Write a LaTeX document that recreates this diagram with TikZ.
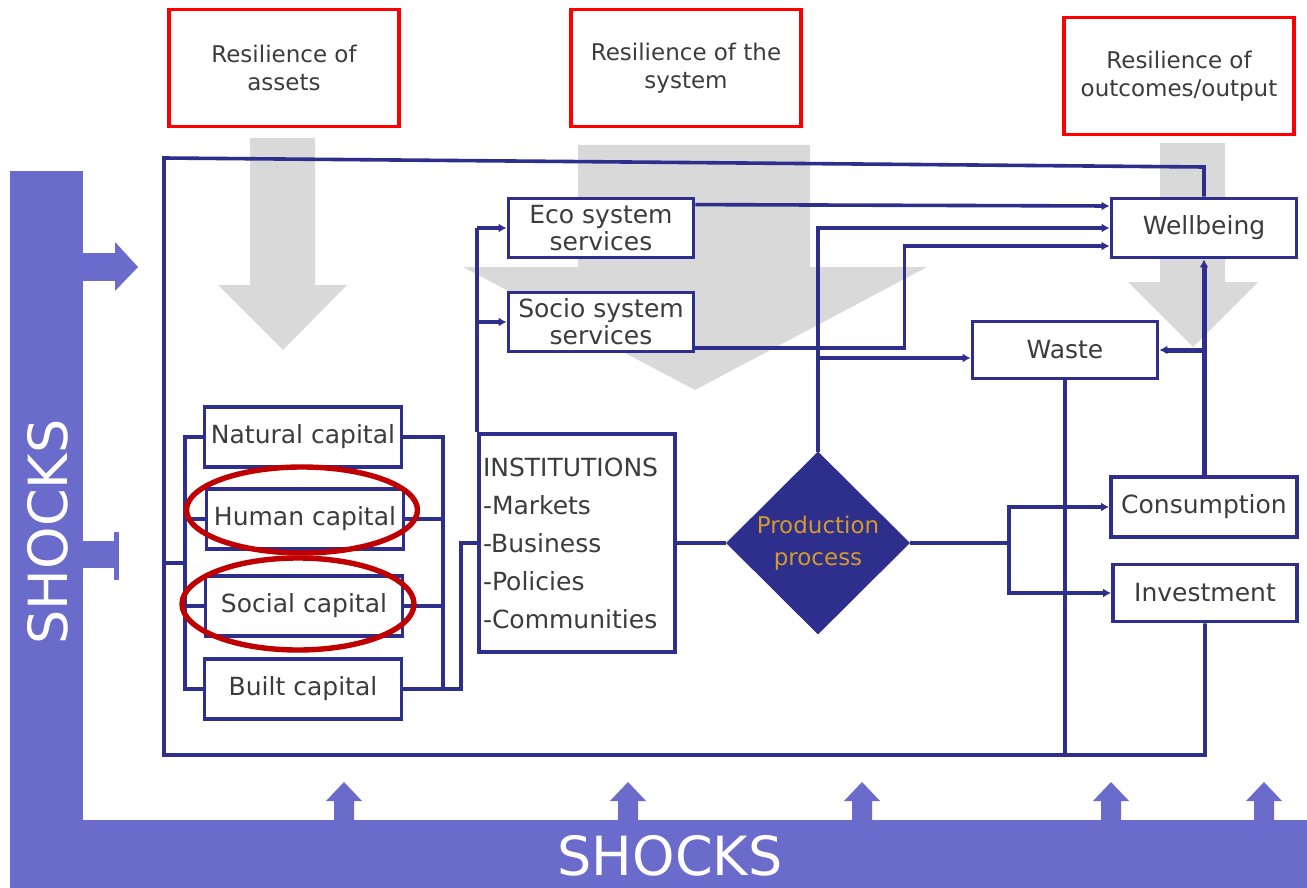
\documentclass[tikz,border=0pt]{standalone}
\usepackage{fontspec}
\setmainfont{DejaVu Sans}
\usetikzlibrary{arrows.meta,shapes.geometric}

\definecolor{navy}{RGB}{46,46,140}
\definecolor{shock}{RGB}{107,107,204}
\definecolor{ghost}{RGB}{217,217,217}
\definecolor{ring}{RGB}{192,0,0}
\definecolor{gold}{RGB}{209,155,43}
\definecolor{ink}{RGB}{60,60,60}

\begin{document}
\begin{tikzpicture}[x=0.5pt,y=-0.5pt,
  box/.style={draw=navy,line width=1.9pt,fill=white,text=ink,
    font=\fontsize{12.5}{13.5}\selectfont,inner sep=0pt,align=center,
    minimum width=92.5pt,minimum height=29.5pt},
  capbox/.style={box,minimum width=98.5pt,minimum height=30pt},
  res/.style={draw=red,line width=1.8pt,text=ink,
    font=\fontsize{11.5}{14}\selectfont,align=center,inner sep=0pt,
    minimum width=115pt,minimum height=58.5pt},
  link/.style={draw=navy,line width=1.8pt},
  tip/.style={-{Latex[length=4pt,width=4.5pt]}}
]
\useasboundingbox (0,0) rectangle (1307,888);

% grey resilience arrows
\fill[ghost] (250,138) -- (315,138) -- (315,285) -- (347,285) -- (283,350) -- (218,285) -- (250,285) -- cycle;
\fill[ghost] (578,145) -- (810,145) -- (810,267) -- (927,267) -- (695,390) -- (463,267) -- (578,267) -- cycle;
\fill[ghost] (1160,143) -- (1225,143) -- (1225,282) -- (1258,282) -- (1193,347) -- (1128,282) -- (1160,282) -- cycle;

% shocks
\fill[shock] (10,171) rectangle (83,888);
\fill[shock] (10,820) rectangle (1307,888);
\fill[shock] (83,253) rectangle (115,281);
\fill[shock] (115,242) -- (138,267) -- (115,291) -- cycle;
\fill[shock] (83,541) rectangle (115,568);
\fill[shock] (114,532) rectangle (119,580);
\foreach \x in {344,628,862,1111,1264}
    \fill[shock] (\x-10,821) -- (\x-10,801) -- (\x-18,801) -- (\x,782) -- (\x+18,801) -- (\x+10,801) -- (\x+10,821) -- cycle;

\node[text=white,font=\fontsize{27}{27}\selectfont] (shockB) at (670,856) {SHOCKS};
\node[text=white,font=\fontsize{27}{27}\selectfont,rotate=90] (shockL) at (48,532) {SHOCKS};

% resilience boxes
\node[res] (resA) at (284,68) {Resilience of\\assets};
\node[res] (resS) at (686,68) {Resilience of the\\system};
\node[res] (resO) at (1179,76) {Resilience of\\outcomes/output};

% capitals
\node[capbox] (natural) at (303,437) {Natural capital};
\node[capbox] (human) at (305,519) {Human capital};
\node[capbox] (social) at (304,606) {Social capital};
\node[capbox] (built) at (303,689) {Built capital};

\node[box,minimum width=98pt,minimum height=109pt,text width=94pt,
      inner xsep=2pt,align=left,font=\fontsize{12.5}{19}\selectfont] (inst) at (577,543)
    {INSTITUTIONS\\-Markets\\-Business\\-Policies\\-Communities};

\node[box] (eco) at (601,228) {Eco system\\services};
\node[box] (socio) at (601,322) {Socio system\\services};

\node[diamond,fill=navy,draw=navy,inner sep=0pt,minimum width=91.5pt,minimum height=91pt,
      text=gold,align=center,font=\fontsize{11.5}{16}\selectfont] (prod) at (818,543)
    {Production\\process};

\node[box] (wellbeing) at (1204,228) {Wellbeing};
\node[box,minimum height=28.5pt] (waste) at (1065,350) {Waste};
\node[box,minimum width=93pt,minimum height=30pt] (consumption) at (1204,507) {Consumption};
\node[box,minimum width=92pt,minimum height=28.5pt] (investment) at (1205,593) {Investment};

% outer frame
\coordinate (tl) at (164,158);
\coordinate (bl) at (164,755);
\coordinate (tr) at (1204,167);
\draw[link] (wellbeing.north) -- (tr) -- (tl) -- (bl) -- (investment.south |- bl) -- (investment.south);
\draw[link] (waste.south) -- (waste.south |- bl);

% capital brackets
\coordinate (lbar) at (185,563);
\draw[link] (natural.west) -| (lbar) |- (built.west);
\draw[link] (human.west) -- (human.west -| lbar);
\draw[link] (social.west) -- (social.west -| lbar);
\draw[link] (lbar) -- (lbar -| tl);

\coordinate (rbar) at (443,689);
\draw[link] (natural.east) -| (rbar) -- (built.east);
\draw[link] (human.east) -- (human.east -| rbar);
\draw[link] (social.east) -- (social.east -| rbar);
\draw[link] (rbar) -- ++(18,0) |- (inst.west);

% institutions to services
\coordinate (ibar) at (inst.north west |- eco.west);
\draw[link] (inst.north west) -- (ibar);
\draw[link,tip] (ibar) -- (eco.west);
\draw[link,tip] (inst.north west |- socio.west) -- (socio.west);
\draw[link] (inst.east) -- (prod.west);

% flows to wellbeing and waste
\draw[link,tip] ([yshift=-4pt]eco.north east) -- ([yshift=11pt]wellbeing.west);
\draw[link,tip] (prod.north) |- (wellbeing.west);
\draw[link,tip] ([yshift=-13pt]socio.east) -- ++(209,0) |- ([yshift=-9pt]wellbeing.west);
\coordinate (wIn) at ([yshift=-4pt]waste.west);
\draw[link,tip] (prod.north |- wIn) -- (wIn);

% outputs
\coordinate (split) at ([xshift=49.5pt]prod.east);
\draw[link] (prod.east) -- (split);
\draw[link,tip] (split) |- (consumption.west);
\draw[link,tip] (split) |- (investment.west);
\draw[link,tip,line width=2.5pt] (consumption.north) -- (wellbeing.south);
\draw[link,tip,line width=2.5pt] (consumption.north |- waste.east) -- (waste.east);

% highlighted capitals
\draw[ring,line width=2.7pt] (302,510) ellipse [x radius=57.75pt, y radius=21.5pt];
\draw[ring,line width=2.7pt] (298,604) ellipse [x radius=58pt, y radius=23pt];

\end{tikzpicture}
\end{document}
